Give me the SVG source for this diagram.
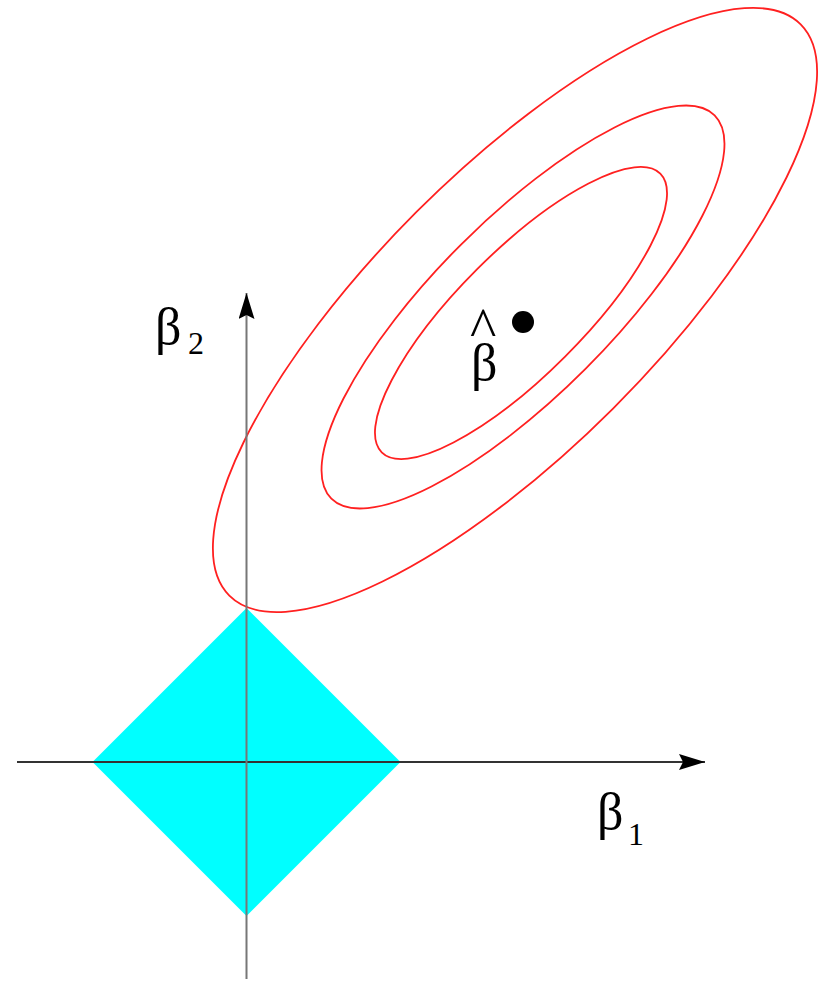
<svg xmlns="http://www.w3.org/2000/svg" width="819" height="981" viewBox="0 0 819 981">
<style>
.contour{fill:none;stroke:#ff2020;stroke-width:1.8}
.axis{fill:none;stroke-width:2}
.lbl{font-family:"Liberation Serif","DejaVu Serif",serif;fill:#000}
</style>
<defs>
<marker id="ah" viewBox="0 0 26 16" refX="26" refY="8" markerWidth="26" markerHeight="16" markerUnits="userSpaceOnUse" orient="auto">
<path d="M0,0 L26,8 L0,16 L4,8 Z" fill="#000"/>
</marker>
</defs>
<rect width="819" height="981" fill="#fff"/>
<g id="diamond">
<polygon points="246.5,608 400.5,762 246.5,916 92.5,762" fill="#00ffff"/>
</g>
<g id="contours">
<ellipse class="contour" cx="515" cy="310" rx="404" ry="139" transform="rotate(-45 515 310)"/>
<ellipse class="contour" cx="523" cy="307" rx="271" ry="88" transform="rotate(-45 523 307)"/>
<ellipse class="contour" cx="521" cy="313" rx="197" ry="62" transform="rotate(-45 521 313)"/>
</g>
<g id="connectors">
<line class="axis" x1="17" y1="762" x2="705" y2="762" stroke="#333" marker-end="url(#ah)"/>
<line class="axis" x1="246.5" y1="979" x2="246.5" y2="293" stroke="#777" marker-end="url(#ah)"/>
</g>
<g id="beta-hat">
<circle cx="523" cy="322" r="11" fill="#000"/>
<text class="lbl"><tspan x="470" y="347" font-size="56">^</tspan><tspan x="471" y="380" font-size="52">β</tspan></text>
</g>
<g id="label-b2">
<text class="lbl" x="155" y="344" font-size="52">β</text>
<text class="lbl" x="188" y="354" font-size="32">2</text>
</g>
<g id="label-b1">
<text class="lbl" x="597" y="829" font-size="52">β</text>
<text class="lbl" x="628" y="845" font-size="32">1</text>
</g>
</svg>
